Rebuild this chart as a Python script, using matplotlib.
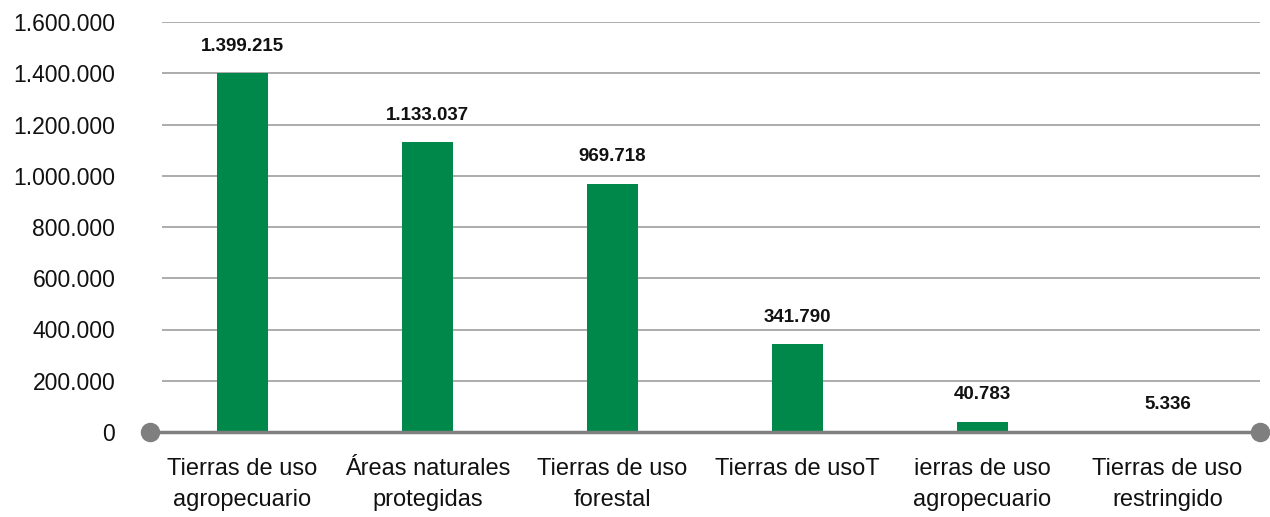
import matplotlib
matplotlib.use("Agg")
import matplotlib.pyplot as plt
from matplotlib.ticker import FuncFormatter

categories = [
    "Tierras de uso\nagropecuario",
    "Áreas naturales\nprotegidas",
    "Tierras de uso\nforestal",
    "Tierras de usoT",
    "ierras de uso\nagropecuario",
    "Tierras de uso\nrestringido",
]
values = [1399215, 1133037, 969718, 341790, 40783, 5336]
y_ticks = [0, 200000, 400000, 600000, 800000, 1000000, 1200000, 1400000, 1600000]

GREEN = "#00874a"
GRID = "#a6a6a6"
AXIS = "#7f7f7f"

plt.rcParams["font.family"] = ["Liberation Sans", "DejaVu Sans"]

def dotted(v, _=None):
    return f"{int(round(v)):,}".replace(",", ".")

fig = plt.figure(figsize=(12.7, 5.17), dpi=100)
ax = fig.add_axes([150 / 1270, 1 - 432 / 517, 1110 / 1270, 410 / 517])

x = list(range(len(categories)))
ax.bar(x, values, width=0.276, color=GREEN, zorder=3)
ax.set_xlim(-0.5, len(categories) - 0.5)
ax.set_ylim(0, 1600000)

# horizontal gridlines
ax.hlines(y_ticks[1:], 12 / 1110, 1, transform=ax.get_yaxis_transform(),
          colors=GRID, linewidth=1.3, zorder=1)

for s in ax.spines.values():
    s.set_visible(False)

# baseline with round end caps
ax.plot([0, 1], [0, 0], transform=ax.get_yaxis_transform(), color=AXIS,
        linewidth=2.5, clip_on=False, zorder=4)
ax.plot([0, 1], [0, 0], transform=ax.get_yaxis_transform(), linestyle="none",
        marker="o", markersize=13, color=AXIS, clip_on=False, zorder=5)

ax.set_yticks(y_ticks)
ax.yaxis.set_major_formatter(FuncFormatter(dotted))
ax.tick_params(axis="y", length=0, pad=25, labelsize=16.5, labelcolor="#111111")
ax.set_xticks(x)
ax.set_xticklabels(categories, fontsize=17, linespacing=1.5, color="#111111")
ax.tick_params(axis="x", length=0, pad=19)

for xi, v in zip(x, values):
    ax.annotate(dotted(v), (xi, v), xytext=(0, 13), textcoords="offset points",
                ha="center", va="bottom", fontsize=13.5, fontweight="bold",
                color="#111111")

fig.savefig("out.png", dpi=100)
